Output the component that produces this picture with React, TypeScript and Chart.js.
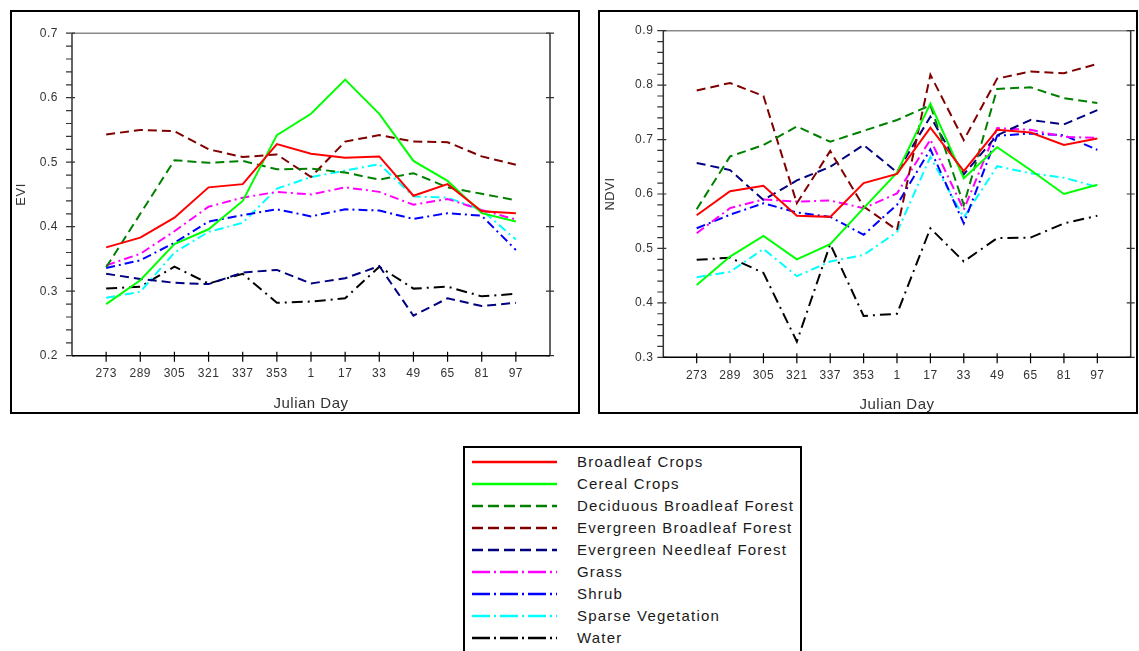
import React, { useEffect, useRef } from 'react';
import { Chart, registerables } from 'chart.js';
Chart.register(...registerables);

const julianDays = ['273', '289', '305', '321', '337', '353', '1', '17', '33', '49', '65', '81', '97'];
const seriesNames = [
  'Broadleaf Crops',
  'Cereal Crops',
  'Deciduous Broadleaf Forest',
  'Evergreen Broadleaf Forest',
  'Evergreen Needleaf Forest',
  'Grass',
  'Shrub',
  'Sparse Vegetation',
  'Water',
];

// EVI values
const eviBroadleafCrops = [0.368, 0.383, 0.414, 0.461, 0.466, 0.528, 0.513, 0.507, 0.509, 0.448, 0.466, 0.424, 0.421];
const eviCerealCrops = [0.280, 0.317, 0.373, 0.396, 0.440, 0.542, 0.575, 0.628, 0.575, 0.502, 0.471, 0.421, 0.408];
const eviDeciduousBroadleaf = [0.337, 0.420, 0.503, 0.499, 0.502, 0.489, 0.490, 0.484, 0.473, 0.483, 0.461, 0.451, 0.441];
const eviEvergreenBroadleaf = [0.543, 0.550, 0.548, 0.520, 0.508, 0.512, 0.477, 0.532, 0.542, 0.532, 0.531, 0.509, 0.496];
const eviEvergreenNeedleleaf = [0.327, 0.319, 0.313, 0.311, 0.329, 0.333, 0.312, 0.320, 0.339, 0.262, 0.289, 0.277, 0.282];
const eviGrass = [0.340, 0.358, 0.393, 0.431, 0.445, 0.454, 0.450, 0.461, 0.454, 0.434, 0.443, 0.426, 0.411];
const eviShrub = [0.336, 0.348, 0.375, 0.408, 0.418, 0.427, 0.416, 0.427, 0.425, 0.412, 0.421, 0.417, 0.364];
const eviSparseVegetation = [0.290, 0.299, 0.360, 0.392, 0.406, 0.459, 0.477, 0.487, 0.497, 0.447, 0.445, 0.426, 0.380];
const eviWater = [0.304, 0.307, 0.338, 0.312, 0.327, 0.282, 0.284, 0.289, 0.338, 0.304, 0.307, 0.292, 0.296];

// NDVI values
const ndviBroadleafCrops = [0.561, 0.605, 0.615, 0.560, 0.558, 0.620, 0.637, 0.722, 0.642, 0.718, 0.713, 0.690, 0.702];
const ndviCerealCrops = [0.433, 0.485, 0.523, 0.480, 0.508, 0.574, 0.639, 0.766, 0.629, 0.686, 0.644, 0.600, 0.617];
const ndviDeciduousBroadleaf = [0.572, 0.669, 0.690, 0.724, 0.696, 0.716, 0.736, 0.763, 0.580, 0.793, 0.796, 0.776, 0.767];
const ndviEvergreenBroadleaf = [0.790, 0.804, 0.780, 0.583, 0.679, 0.577, 0.534, 0.819, 0.699, 0.812, 0.825, 0.822, 0.839];
const ndviEvergreenNeedleleaf = [0.657, 0.644, 0.589, 0.625, 0.650, 0.690, 0.640, 0.742, 0.636, 0.708, 0.736, 0.728, 0.754];
const ndviGrass = [0.528, 0.574, 0.590, 0.586, 0.588, 0.574, 0.601, 0.700, 0.571, 0.721, 0.718, 0.705, 0.703];
const ndviShrub = [0.537, 0.562, 0.583, 0.566, 0.558, 0.525, 0.580, 0.682, 0.546, 0.707, 0.711, 0.708, 0.681];
const ndviSparseVegetation = [0.447, 0.457, 0.499, 0.449, 0.476, 0.488, 0.530, 0.668, 0.557, 0.651, 0.638, 0.630, 0.613];
const ndviWater = [0.479, 0.483, 0.455, 0.329, 0.508, 0.376, 0.380, 0.537, 0.476, 0.519, 0.520, 0.546, 0.560];

const eviSeries = [eviBroadleafCrops, eviCerealCrops, eviDeciduousBroadleaf, eviEvergreenBroadleaf, eviEvergreenNeedleleaf, eviGrass, eviShrub, eviSparseVegetation, eviWater];
const ndviSeries = [ndviBroadleafCrops, ndviCerealCrops, ndviDeciduousBroadleaf, ndviEvergreenBroadleaf, ndviEvergreenNeedleleaf, ndviGrass, ndviShrub, ndviSparseVegetation, ndviWater];

// styles
const seriesColors = ['#ff0000', '#00ff00', '#008000', '#800000', '#000080', '#ff00ff', '#0000ff', '#00ffff', '#000000'];
const lineKinds = ['solid', 'solid', 'dash', 'dash', 'dash', 'dashdot', 'dashdot', 'dashdot', 'dashdotLong'];
const plotDash: Record<string, number[]> = { solid: [], dash: [9, 5], dashdot: [9, 4, 2, 4], dashdotLong: [11, 5, 2, 5] };
const legendDash: Record<string, string> = { solid: 'none', dash: '11 5', dashdot: '18 4 2 4', dashdotLong: '18 4 2 4' };

const FONT = "'Liberation Sans', Arial, sans-serif";

type Geom = {
  w: number; h: number; yWidth: number; xHeight: number; padTop: number; padRight: number;
  yLabelPad: number; xLabelPad: number; yTitlePad: number; xTitlePad: number;
};

function Panel({ values, yMin, yMax, yTitle, geom }: { values: number[][]; yMin: number; yMax: number; yTitle: string; geom: Geom }) {
  const ref = useRef<HTMLCanvasElement>(null);
  useEffect(() => {
    const nMinor = Math.round((yMax - yMin) / 0.02);
    const axesPlugin = {
      id: 'axesDeco',
      beforeDraw(chart: any) {
        chart.ctx.letterSpacing = '0.5px';
      },
      beforeDatasetsDraw(chart: any) {
        const { ctx, chartArea: a, scales } = chart;
        const xs = scales.x;
        const ys = scales.y;
        ctx.save();
        ctx.lineWidth = 1.5;
        ctx.strokeStyle = '#8a8a8a';
        ctx.beginPath();
        ctx.moveTo(a.left, a.top);
        ctx.lineTo(a.right, a.top);
        ctx.stroke();
        ctx.strokeStyle = '#333';
        ctx.beginPath();
        ctx.moveTo(a.left, a.top);
        ctx.lineTo(a.left, a.bottom);
        ctx.moveTo(a.right, a.top);
        ctx.lineTo(a.right, a.bottom);
        ctx.stroke();
        ctx.lineWidth = 1.2;
        ctx.beginPath();
        for (let k = 0; k <= nMinor; k++) {
          const py = ys.getPixelForValue(yMin + k * 0.02);
          if (k % 5 === 0) {
            ctx.moveTo(a.left - 6, py);
            ctx.lineTo(a.left + 3, py);
            ctx.moveTo(a.right - 4, py);
            ctx.lineTo(a.right + 4, py);
          } else {
            ctx.moveTo(a.left - 6, py);
            ctx.lineTo(a.left, py);
          }
        }
        ctx.stroke();
        ctx.strokeStyle = '#000';
        ctx.lineWidth = 1.5;
        ctx.beginPath();
        ctx.moveTo(a.left, a.bottom);
        ctx.lineTo(a.right, a.bottom);
        ctx.stroke();
        ctx.lineWidth = 1.2;
        ctx.beginPath();
        julianDays.forEach((_, j) => {
          const px = xs.getPixelForValue(j);
          ctx.moveTo(px, a.bottom - 4);
          ctx.lineTo(px, a.bottom + 6);
        });
        ctx.stroke();
        ctx.restore();
      },
    };
    const chart = new Chart(ref.current as HTMLCanvasElement, {
      type: 'line',
      data: {
        datasets: seriesNames.map((name, i) => ({
          label: name,
          data: values[i].map((v, j) => ({ x: j, y: v })),
          borderColor: seriesColors[i],
          backgroundColor: seriesColors[i],
          borderWidth: 2,
          borderDash: plotDash[lineKinds[i]],
          pointRadius: 0,
          tension: 0,
          fill: false,
        })),
      },
      options: {
        responsive: false,
        animation: false,
        layout: { padding: { top: geom.padTop, right: geom.padRight, left: 0, bottom: 0 } },
        plugins: { legend: { display: false }, tooltip: { enabled: false } },
        scales: {
          x: {
            type: 'linear',
            min: -1,
            max: 13,
            afterBuildTicks: (s: any) => {
              s.ticks = julianDays.map((_, j) => ({ value: j }));
            },
            afterFit: (s: any) => {
              s.height = geom.xHeight;
            },
            grid: { display: false, drawTicks: false },
            border: { display: false },
            ticks: {
              callback: (v: any) => julianDays[v] ?? '',
              padding: geom.xLabelPad,
              color: '#333',
              font: { size: 12, family: FONT },
              maxRotation: 0,
              autoSkip: false,
            },
            title: {
              display: true,
              text: 'Julian Day',
              color: '#333',
              font: { size: 15, family: FONT },
              padding: { top: 0, bottom: geom.xTitlePad },
            },
          },
          y: {
            type: 'linear',
            min: yMin,
            max: yMax,
            afterBuildTicks: (s: any) => {
              const n = Math.round((yMax - yMin) / 0.1);
              const t = [];
              for (let k = 0; k <= n; k++) t.push({ value: Math.round((yMin + k * 0.1) * 10) / 10 });
              s.ticks = t;
            },
            afterFit: (s: any) => {
              s.width = geom.yWidth;
            },
            grid: { display: false, drawTicks: false },
            border: { display: false },
            ticks: {
              callback: (v: any) => Number(v).toFixed(1),
              padding: geom.yLabelPad,
              color: '#333',
              font: { size: 12, family: FONT },
            },
            title: {
              display: true,
              text: yTitle,
              color: '#333',
              font: { size: 13, family: FONT },
              padding: { top: geom.yTitlePad, bottom: 0 },
            },
          },
        },
      } as any,
      plugins: [axesPlugin],
    });
    return () => chart.destroy();
  }, []);
  return <canvas ref={ref} width={geom.w} height={geom.h} style={{ position: 'absolute', left: 0, top: 0, width: geom.w, height: geom.h }} />;
}

const leftGeom: Geom = { w: 566, h: 400, yWidth: 60, xHeight: 56.3, padTop: 14, padRight: 28, yLabelPad: 14, xLabelPad: 11, yTitlePad: 2, xTitlePad: -1 };
const rightGeom: Geom = { w: 536, h: 400, yWidth: 63.3, xHeight: 54.7, padTop: 18.7, padRight: 5.3, yLabelPad: 10, xLabelPad: 11, yTitlePad: 3, xTitlePad: -2 };

export default function App() {
  return (
    <div style={{ position: 'fixed', left: 0, top: 0, width: 1139, height: 651, overflow: 'hidden', background: '#fff' }}>
      <div style={{ position: 'absolute', left: 10, top: 10, width: 570, height: 404, border: '2px solid #000', boxSizing: 'border-box' }}>
        <Panel values={eviSeries} yMin={0.2} yMax={0.7} yTitle="EVI" geom={leftGeom} />
      </div>
      <div style={{ position: 'absolute', left: 598, top: 10, width: 540, height: 404, border: '2px solid #000', boxSizing: 'border-box' }}>
        <Panel values={ndviSeries} yMin={0.3} yMax={0.9} yTitle="NDVI" geom={rightGeom} />
      </div>
      <div style={{ position: 'absolute', left: 463, top: 446, width: 339, height: 230, border: '2px solid #000', boxSizing: 'border-box' }} />
      {seriesNames.map((name, i) => {
        const cy = 461.7 + i * 22.05;
        return (
          <React.Fragment key={name}>
            <svg width={90} height={10} style={{ position: 'absolute', left: 470, top: cy - 5 }}>
              <line x1={2} y1={5} x2={87} y2={5} stroke={seriesColors[i]} strokeWidth={2.5} strokeDasharray={legendDash[lineKinds[i]]} />
            </svg>
            <div style={{ position: 'absolute', left: 577, top: cy - 11, height: 22, lineHeight: '22px', fontFamily: FONT, fontSize: 15, letterSpacing: '1.2px', color: '#1a1a1a', whiteSpace: 'nowrap' }}>
              {name}
            </div>
          </React.Fragment>
        );
      })}
    </div>
  );
}
